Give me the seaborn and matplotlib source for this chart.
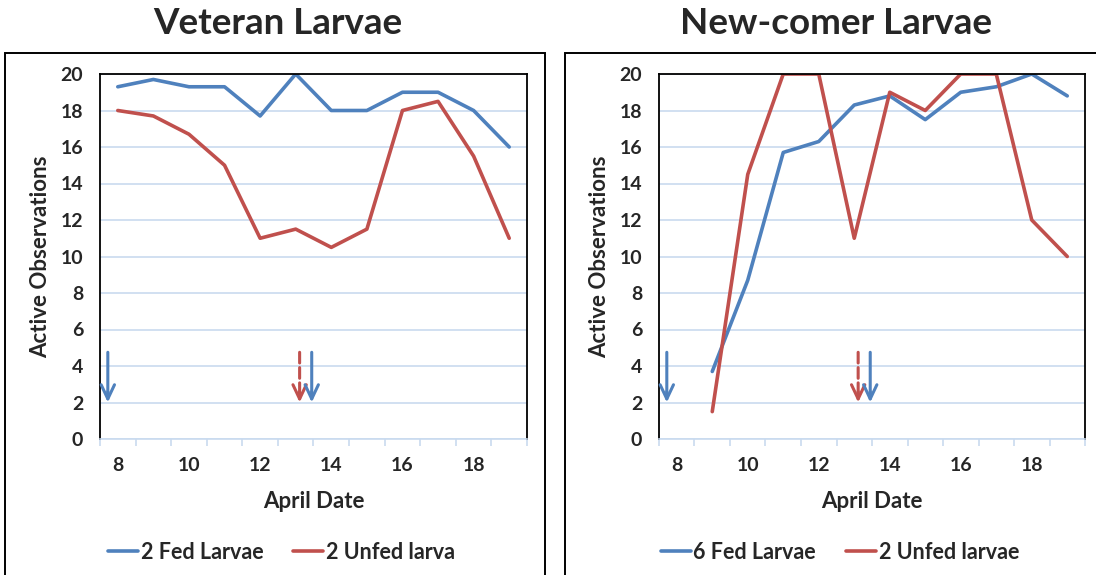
import matplotlib
matplotlib.use("Agg")
import matplotlib.pyplot as plt
import numpy as np
import pandas as pd
import seaborn as sns
from matplotlib.lines import Line2D
from matplotlib.patches import Rectangle

# April dates (Excel category axis, one category per day)
dates = [8, 9, 10, 11, 12, 13, 14, 15, 16, 17, 18, 19]

# Veteran larvae
vet_fed = [19.3, 19.7, 19.3, 19.3, 17.7, 20.0, 18.0, 18.0, 19.0, 19.0, 18.0, 16.0]
vet_unfed = [18.0, 17.7, 16.7, 15.0, 11.0, 11.5, 10.5, 11.5, 18.0, 18.5, 15.5, 11.0]

# New-comer larvae (no data on April 8)
new_fed = [np.nan, 3.7, 8.7, 15.7, 16.3, 18.3, 18.8, 17.5, 19.0, 19.3, 20.0, 18.8]
new_unfed = [np.nan, 1.5, 14.5, 20.0, 20.0, 11.0, 19.0, 18.0, 20.0, 20.0, 12.0, 10.0]

titles = ["Veteran Larvae", "New-comer Larvae"]
fed_labels = ["2 Fed Larvae", "6 Fed Larvae"]
unfed_labels = ["2 Unfed larva", "2 Unfed larvae"]

# event arrows: (x in April date units, colour key, dashed?)
arrows = [(7.72, "fed", False), (13.11, "unfed", True), (13.45, "fed", False)]

BLUE = "#4f81bd"
RED = "#c0504d"
GRID = "#c9daef"

sns.set_theme(style="white")
plt.rcParams["font.family"] = ["Lato", "DejaVu Sans"]
plt.rcParams["font.weight"] = "bold"

fig = plt.figure(figsize=(10.96, 5.75), dpi=100)

# (fed, unfed, axes left px, axes width px, frame left px, frame width px)
panels = [
    (vet_fed, vet_unfed, 100, 427, 5, 540),
    (new_fed, new_unfed, 659, 426, 565, 560),
]

for i, (fed, unfed, left, width, fx, fw) in enumerate(panels):
    # outer chart-area border
    fig.add_artist(Rectangle((fx / 1096, -0.05), fw / 1096, 1 - 53 / 575 + 0.05,
                             transform=fig.transFigure, fill=False, edgecolor="black", lw=1.4))
    fig.text((left + width / 2 - 36) / 1096, 1 - 24 / 575, titles[i],
             ha="center", va="center", fontsize=26.5, fontweight="bold")

    ax = fig.add_axes([left / 1096, 1 - 439 / 575, width / 1096, 365 / 575])
    df = pd.DataFrame({"date": dates, fed_labels[i]: fed, unfed_labels[i]: unfed})
    long = df.melt("date", var_name="series", value_name="obs").dropna()
    sns.lineplot(data=long, x="date", y="obs", hue="series",
                 palette=[BLUE, RED], linewidth=2.6, ax=ax, legend=False)

    ax.set_xlim(7.5, 19.5)
    ax.set_ylim(0, 20)
    ax.set_yticks(np.arange(0, 21, 2))
    ax.set_xticks(np.arange(7.5, 19.6, 1))
    ax.set_xticklabels([])
    ax.set_xticks([8, 10, 12, 14, 16, 18], minor=True)
    ax.set_xticklabels(["8", "10", "12", "14", "16", "18"], minor=True,
                       fontsize=14, fontweight="bold")
    ax.tick_params(axis="x", which="major", direction="out", length=5, color=GRID, width=1.2, bottom=True)
    ax.tick_params(axis="x", which="minor", length=0, pad=13)
    ax.tick_params(axis="y", length=0, labelsize=14, pad=12)
    for lab in ax.get_yticklabels():
        lab.set_fontweight("bold")
    ax.grid(axis="y", color=GRID, lw=1.2)
    ax.set_axisbelow(True)
    for s in ["top", "left", "right"]:
        ax.spines[s].set_color("black")
        ax.spines[s].set_linewidth(1.3)
    ax.spines["bottom"].set_color(GRID)
    ax.spines["bottom"].set_linewidth(1.2)

    ax.set_xlabel("April Date", fontsize=16, fontweight="bold", labelpad=12)
    ax.set_ylabel("Active Observations", fontsize=16, fontweight="bold", labelpad=7)

    for x, key, dashed in arrows:
        col = BLUE if key == "fed" else RED
        # shaft (dashed for the unfed event) + solid open head
        ax.annotate("", xy=(x, 2.3), xytext=(x, 4.75),
                    arrowprops=dict(arrowstyle="-", color=col, lw=2.2, shrinkA=0, shrinkB=0,
                                    linestyle=(0, (3.5, 1.5)) if dashed else "-"))
        ax.annotate("", xy=(x, 2.0), xytext=(x, 2.6),
                    arrowprops=dict(arrowstyle="->,head_length=0.85,head_width=0.4",
                                    color=col, lw=2.2, shrinkA=0, shrinkB=0))

    handles = [Line2D([], [], color=BLUE, lw=2.6), Line2D([], [], color=RED, lw=2.6)]
    ax.legend(handles, [fed_labels[i], unfed_labels[i]], loc="center",
              bbox_to_anchor=(0.425, -0.31), ncol=2, frameon=False,
              handlelength=1.4, handletextpad=0.1, columnspacing=1.4,
              prop={"weight": "bold", "size": 15.5})

fig.savefig("out.png", dpi=100)
